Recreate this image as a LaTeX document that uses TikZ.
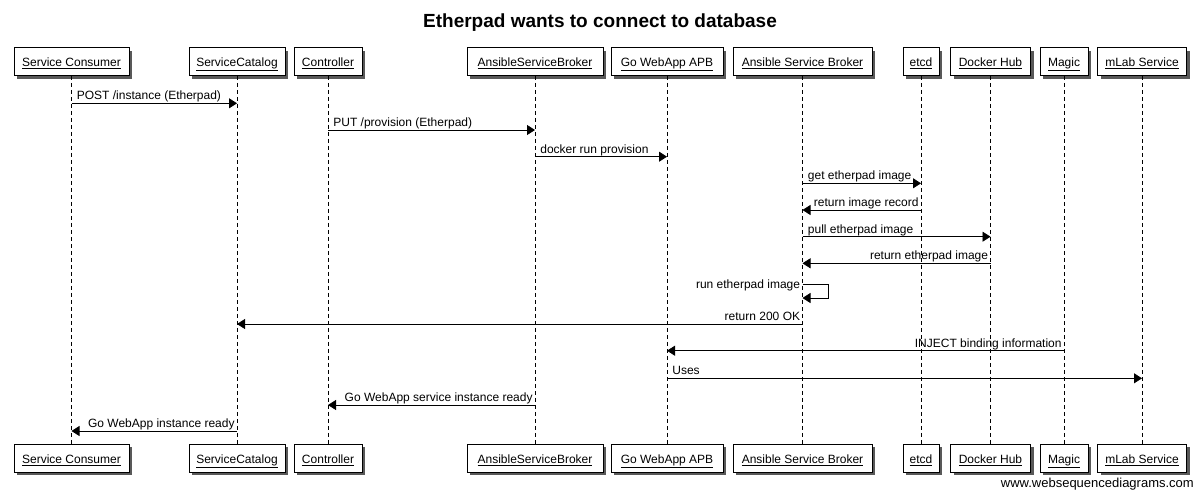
\documentclass[tikz,border=0pt]{standalone}
\usepackage{fontspec}
\setmainfont{Liberation Sans}
\usepackage{tikz}
\usetikzlibrary{arrows.meta, shadows, positioning}
\tikzstyle{actor} = [rectangle, draw=black, fill=white, line width=0.8pt, minimum height=28pt, inner xsep=0pt, text height=11.5pt, text depth=1pt, text centered, drop shadow={shadow xshift=3pt, shadow yshift=-3pt, fill=black, opacity=0.65}]
\tikzstyle{life} = [line width=0.8pt, dash pattern=on 4pt off 3pt]
\tikzstyle{arrow} = [line width=0.8pt, -{Triangle[length=8pt, width=10pt]}]
\tikzstyle{txtr} = [anchor=base west, inner sep=0pt, xshift=5pt, yshift=3.5pt]
\tikzstyle{txtl} = [anchor=base east, inner sep=0pt, xshift=-2pt, yshift=3.5pt]
\begin{document}
\begin{tikzpicture}[x=1pt, y=-1pt, font=\fontsize{12}{14}\selectfont]
		\useasboundingbox (0,0) rectangle (1200,496);
		\node (Title) [anchor=base, font=\fontsize{19}{22}\selectfont\bfseries] at (600,27) {Etherpad wants to connect to database};

		\node (ConsumerTop) [actor, minimum width=115pt] at (71.5,61.5) {\underline{Service Consumer}};
		\node (CatalogTop) [actor, minimum width=96pt] at (237,61.5) {\underline{ServiceCatalog}};
		\node (ControllerTop) [actor, minimum width=68pt] at (328,61.5) {\underline{Controller}};
		\node (BrokerTop) [actor, minimum width=136pt] at (535,61.5) {\underline{AnsibleServiceBroker}};
		\node (ApbTop) [actor, minimum width=112pt] at (667,61.5) {\underline{Go WebApp APB}};
		\node (AsbTop) [actor, minimum width=139pt] at (802.5,61.5) {\underline{Ansible Service Broker}};
		\node (EtcdTop) [actor, minimum width=36pt] at (921,61.5) {\underline{etcd}};
		\node (HubTop) [actor, minimum width=80pt] at (990.5,61.5) {\underline{Docker Hub}};
		\node (MagicTop) [actor, minimum width=48pt] at (1064,61.5) {\underline{Magic}};
		\node (MlabTop) [actor, minimum width=89pt] at (1142,61.5) {\underline{mLab Service}};

		\node (ConsumerBot) [actor, minimum width=115pt] at (71.5,458) {\underline{Service Consumer}};
		\node (CatalogBot) [actor, minimum width=96pt] at (237,458) {\underline{ServiceCatalog}};
		\node (ControllerBot) [actor, minimum width=68pt] at (328,458) {\underline{Controller}};
		\node (BrokerBot) [actor, minimum width=136pt] at (535,458) {\underline{AnsibleServiceBroker}};
		\node (ApbBot) [actor, minimum width=112pt] at (667,458) {\underline{Go WebApp APB}};
		\node (AsbBot) [actor, minimum width=139pt] at (802.5,458) {\underline{Ansible Service Broker}};
		\node (EtcdBot) [actor, minimum width=36pt] at (921,458) {\underline{etcd}};
		\node (HubBot) [actor, minimum width=80pt] at (990.5,458) {\underline{Docker Hub}};
		\node (MagicBot) [actor, minimum width=48pt] at (1064,458) {\underline{Magic}};
		\node (MlabBot) [actor, minimum width=89pt] at (1142,458) {\underline{mLab Service}};

		\node (Watermark) [anchor=base east, inner sep=0pt, font=\fontsize{13}{15}\selectfont] at (1194,487) {www.websequencediagrams.com};

		\draw [life] (ConsumerTop.south) -- (ConsumerBot.north);
		\draw [life] (CatalogTop.south) -- (CatalogBot.north);
		\draw [life] (ControllerTop.south) -- (ControllerBot.north);
		\draw [life] (BrokerTop.south) -- (BrokerBot.north);
		\draw [life] (ApbTop.south) -- (ApbBot.north);
		\draw [life] (AsbTop.south) -- (AsbBot.north);
		\draw [life] (EtcdTop.south) -- (EtcdBot.north);
		\draw [life] (HubTop.south) -- (HubBot.north);
		\draw [life] (MagicTop.south) -- (MagicBot.north);
		\draw [life] (MlabTop.south) -- (MlabBot.north);

		\coordinate (Row1) at (0,103.3);
		\coordinate (Row2) at (0,130);
		\coordinate (Row3) at (0,156.7);
		\coordinate (Row4) at (0,183.3);
		\coordinate (Row5) at (0,210);
		\coordinate (Row6) at (0,236.7);
		\coordinate (Row7) at (0,263.3);
		\coordinate (Row8) at (0,284);
		\coordinate (Row8b) at (0,298);
		\coordinate (Row9) at (0,324);
		\coordinate (Row10) at (0,350.7);
		\coordinate (Row11) at (0,378.3);
		\coordinate (Row12) at (0,405);
		\coordinate (Row13) at (0,431);

		\draw [arrow] (ConsumerTop |- Row1) -- node[txtr, pos=0]{POST /instance (Etherpad)} (CatalogTop |- Row1);
		\draw [arrow] (ControllerTop |- Row2) -- node[txtr, pos=0]{PUT /provision (Etherpad)} (BrokerTop |- Row2);
		\draw [arrow] (BrokerTop |- Row3) -- node[txtr, pos=0]{docker run provision} (ApbTop |- Row3);
		\draw [arrow] (AsbTop |- Row4) -- node[txtr, pos=0]{get etherpad image} (EtcdTop |- Row4);
		\draw [arrow] (EtcdTop |- Row5) -- node[txtl, pos=0]{return image record} (AsbTop |- Row5);
		\draw [arrow] (AsbTop |- Row6) -- node[txtr, pos=0]{pull etherpad image} (HubTop |- Row6);
		\draw [arrow] (HubTop |- Row7) -- node[txtl, pos=0]{return etherpad image} (AsbTop |- Row7);
		\draw [arrow] (AsbTop |- Row8) node[anchor=east, inner sep=0pt, xshift=-2pt, yshift=-1pt]{run etherpad image} -- ++(26,0) |- (AsbTop |- Row8b);
		\draw [arrow] (AsbTop |- Row9) -- node[txtl, pos=0]{return 200 OK} (CatalogTop |- Row9);
		\draw [arrow] (MagicTop |- Row10) -- node[txtl, pos=0]{INJECT binding information} (ApbTop |- Row10);
		\draw [arrow] (ApbTop |- Row11) -- node[txtr, pos=0]{Uses} (MlabTop |- Row11);
		\draw [arrow] (BrokerTop |- Row12) -- node[txtl, pos=0]{Go WebApp service instance ready} (ControllerTop |- Row12);
		\draw [arrow] (CatalogTop |- Row13) -- node[txtl, pos=0]{Go WebApp instance ready} (ConsumerTop |- Row13);
		\end{tikzpicture}
\end{document}
